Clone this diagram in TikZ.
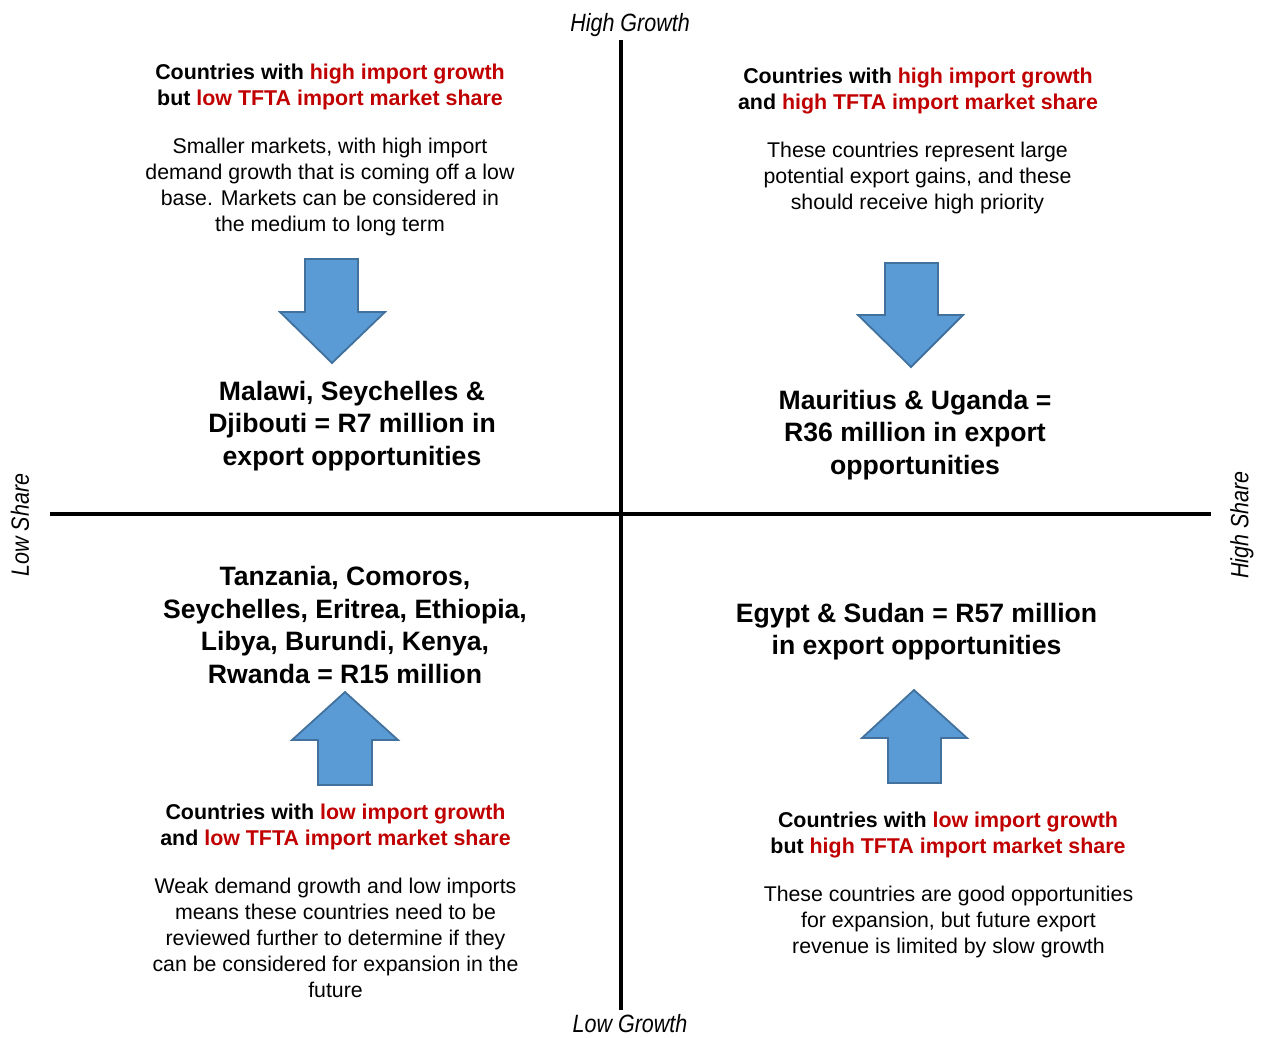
\documentclass[tikz,border=0pt]{standalone}
\usepackage{fontspec}
\setmainfont{Liberation Sans}
\definecolor{hot}{HTML}{C00000}
\definecolor{arrowfill}{HTML}{5B9BD5}
\definecolor{arrowedge}{HTML}{41719C}
\newcommand{\hl}[1]{\textcolor{hot}{#1}}
\newcommand{\axislabel}[1]{\scalebox{0.86}[1]{\itshape #1}}
\tikzset{
  axis/.style={line width=3.5pt, black},
  blockarrow/.style={fill=arrowfill, draw=arrowedge, line width=1.8pt, line join=miter},
  head/.style={align=center, font=\fontsize{21.4}{26}\selectfont\bfseries},
  body/.style={align=center, font=\fontsize{21.3}{26}\selectfont},
  big/.style={align=center, font=\fontsize{26.6}{32.5}\selectfont\bfseries},
  axtext/.style={font=\fontsize{25}{28}\selectfont, inner sep=0pt},
}
\begin{document}
\begin{tikzpicture}[x=1pt,y=-1pt]
\useasboundingbox (0,0) rectangle (1263,1037);

% axes
\coordinate (xl) at (50,514);
\coordinate (xr) at (1211,514);
\coordinate (yt) at (621,40);
\coordinate (yb) at (621,1010);
\draw[axis] (xl) -- (xr);
\draw[axis] (yt) -- (yb);

\node[axtext] (hg) at (630,25) {\axislabel{High Growth}};
\node[axtext] (lg) at (630,1024) {\axislabel{Low Growth}};
\node[axtext, rotate=90] (ls) at (20,525) {\axislabel{Low Share}};
\node[axtext, rotate=90] (hs) at (1242,525) {\axislabel{High Share}};

% top-left quadrant
\node[head] (q1h) at (330,87) {Countries with \hl{high import growth}\\but \hl{low TFTA import market share}};
\node[body] (q1b) at (330,187) {Smaller markets, with high import\\demand growth that is coming off a low\\base. Markets can be considered in\\the medium to long term};
\draw[blockarrow] (305,259) -- (358,259) -- (358,312) -- (385,312) -- (332,363) -- (280,312) -- (305,312) -- cycle;
\node[big] (q1t) at (352,426) {Malawi, Seychelles \&\\Djibouti = R7 million in\\export opportunities};

% top-right quadrant
\node[head] (q2h) at (918,91) {Countries with \hl{high import growth}\\and \hl{high TFTA import market share}};
\node[body] (q2b) at (917.5,178) {These countries represent large\\potential export gains, and these\\should receive high priority};
\draw[blockarrow] (885,263) -- (938,263) -- (938,315) -- (963,315) -- (911,367) -- (858,315) -- (885,315) -- cycle;
\node[big] (q2t) at (915,435) {Mauritius \& Uganda =\\R36 million in export\\opportunities};

% bottom-left quadrant
\node[big] (q3t) at (345,625) {Tanzania, Comoros,\\Seychelles, Eritrea, Ethiopia,\\Libya, Burundi, Kenya,\\Rwanda = R15 million};
\draw[blockarrow] (345,692) -- (398,740) -- (372,740) -- (372,785) -- (318,785) -- (318,740) -- (292,740) -- cycle;
\node[head] (q3h) at (335.5,827) {Countries with \hl{low import growth}\\and \hl{low TFTA import market share}};
\node[body] (q3b) at (335.5,938) {Weak demand growth and low imports\\means these countries need to be\\reviewed further to determine if they\\can be considered for expansion in the\\future};

% bottom-right quadrant
\node[big] (q4t) at (916.5,631.5) {Egypt \& Sudan = R57 million\\in export opportunities};
\draw[blockarrow] (914,690) -- (967,738) -- (941,738) -- (941,783) -- (888,783) -- (888,738) -- (862,738) -- cycle;
\node[head] (q4h) at (948,835) {Countries with \hl{low import growth}\\but \hl{high TFTA import market share}};
\node[body] (q4b) at (948.5,922) {These countries are good opportunities\\for expansion, but future export\\revenue is limited by slow growth};
\end{tikzpicture}
\end{document}
